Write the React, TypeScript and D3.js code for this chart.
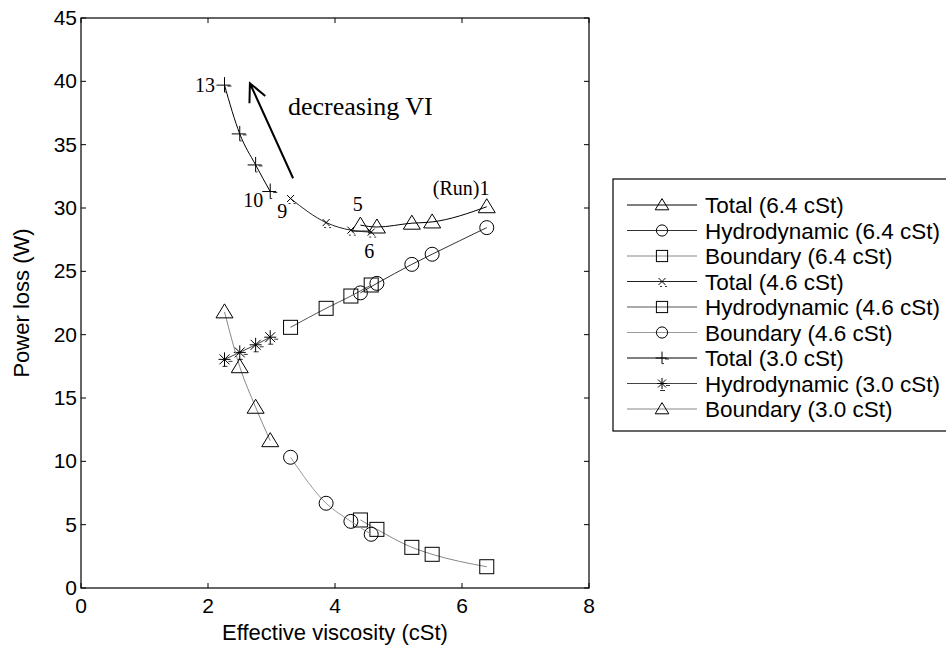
import React from "react";
import * as d3 from "d3";

const X64 = [6.39, 5.53, 5.21, 4.66, 4.4];
const X46 = [4.57, 4.25, 3.86, 3.3];
const X30 = [2.98, 2.75, 2.5, 2.26];

const total64 = [30.1, 28.9, 28.8, 28.5, 28.65];
const hydro64 = [28.45, 26.35, 25.55, 24.05, 23.3];
const bound64 = [1.68, 2.66, 3.21, 4.63, 5.37];
const total46 = [28.1, 28.25, 28.85, 30.75];
const hydro46 = [23.92, 23.05, 22.08, 20.58];
const bound46 = [4.24, 5.26, 6.69, 10.32];
const total30 = [31.3, 33.4, 35.85, 39.7];
const hydro30 = [19.8, 19.2, 18.6, 18.05];
const bound30 = [11.63, 14.27, 17.47, 21.8];

const xTicks = [0, 2, 4, 6, 8];
const yTicks = [0, 5, 10, 15, 20, 25, 30, 35, 40, 45];

type Marker = "tri" | "circ" | "sq" | "x" | "plus" | "star";
const seriesNames = [
  "Total (6.4 cSt)",
  "Hydrodynamic (6.4 cSt)",
  "Boundary (6.4 cSt)",
  "Total (4.6 cSt)",
  "Hydrodynamic (4.6 cSt)",
  "Boundary (4.6 cSt)",
  "Total (3.0 cSt)",
  "Hydrodynamic (3.0 cSt)",
  "Boundary (3.0 cSt)",
];
const seriesX = [X64, X64, X64, X46, X46, X46, X30, X30, X30];
const seriesY = [total64, hydro64, bound64, total46, hydro46, bound46, total30, hydro30, bound30];
const seriesMarker: Marker[] = ["tri", "circ", "sq", "x", "sq", "circ", "plus", "star", "tri"];
const seriesColor = ["#000", "#333", "#888", "#222", "#555", "#999", "#000", "#444", "#888"];

const annotations = [
  { t: "13", x: 2.11, y: 39.7, a: "end", s: 20 },
  { t: "10", x: 2.87, y: 30.6, a: "end", s: 20 },
  { t: "9", x: 3.17, y: 29.8, a: "middle", s: 20 },
  { t: "5", x: 4.36, y: 30.3, a: "middle", s: 20 },
  { t: "6", x: 4.54, y: 26.6, a: "middle", s: 20 },
  { t: "(Run)1", x: 5.54, y: 31.6, a: "start", s: 20 },
  { t: "decreasing VI", x: 3.26, y: 38.1, a: "start", s: 26 },
];
const arrowFrom = [3.34, 32.35];
const arrowTo = [2.66, 39.85];

const W = 946;
const H = 649;
const L = 81, R = 589, T = 18, B = 588;

function MarkerShape({ m, cx, cy, k = 1 }: { m: Marker; cx: number; cy: number; k?: number }) {
  const st = { fill: "none", stroke: "#000", strokeWidth: 1 };
  if (m === "tri")
    return (
      <polygon
        points={`${cx},${cy - 8 * k} ${cx + 8.5 * k},${cy + 6 * k} ${cx - 8.5 * k},${cy + 6 * k}`}
        {...st}
      />
    );
  if (m === "circ") return <circle cx={cx} cy={cy} r={7 * k} {...st} />;
  if (m === "sq") return <rect x={cx - 7 * k} y={cy - 7 * k} width={14 * k} height={14 * k} {...st} />;
  if (m === "x")
    return (
      <g {...st}>
        <path d={`M${cx - 3.5},${cy - 3.5}L${cx + 3.5},${cy + 3.5}M${cx - 3.5},${cy + 3.5}L${cx + 3.5},${cy - 3.5}`} />
        <path d={`M${cx - 2},${cy + 5}L${cx},${cy + 5}M${cx + 3},${cy + 5}L${cx + 5},${cy + 5}`} strokeWidth={0.8} />
      </g>
    );
  if (m === "plus")
    return (
      <g {...st}>
        <path d={`M${cx - 8 * k},${cy}L${cx + 6 * k},${cy}M${cx},${cy - 8 * k}L${cx},${cy + 7 * k}`} />
        <path d={`M${cx + 3},${cy + 1}L${cx + 7},${cy + 1}M${cx},${cy + 7 * k}L${cx + 2},${cy + 7 * k}`} strokeWidth={0.8} />
      </g>
    );
  return (
    <g {...st}>
      <path
        d={`M${cx - 6 * k},${cy}L${cx + 6 * k},${cy}M${cx},${cy - 7 * k}L${cx},${cy + 7 * k}M${cx - 5 * k},${cy - 5 * k}L${cx + 5 * k},${cy + 5 * k}M${cx - 5 * k},${cy + 5 * k}L${cx + 5 * k},${cy - 5 * k}`}
      />
      <path d={`M${cx + 4},${cy + 2}L${cx + 8},${cy + 2}M${cx - 2},${cy + 7}L${cx + 3},${cy + 7}`} strokeWidth={0.8} />
    </g>
  );
}

export default function App() {
  const x = d3.scaleLinear().domain([0, 8]).range([L, R]);
  const y = d3.scaleLinear().domain([0, 45]).range([B, T]);
  const line = d3
    .line<[number, number]>()
    .x((d) => x(d[0]))
    .y((d) => y(d[1]))
    .curve(d3.curveMonotoneX);

  const sans = "'Liberation Sans', Arial, sans-serif";
  const serif = "'Liberation Serif', 'Times New Roman', serif";

  const ax0 = x(arrowFrom[0]), ay0 = y(arrowFrom[1]);
  const ax1 = x(arrowTo[0]), ay1 = y(arrowTo[1]);
  const ang = Math.atan2(ay0 - ay1, ax0 - ax1);
  const hl = 20, ha = 0.45;
  const h1 = [ax1 + hl * Math.cos(ang + ha), ay1 + hl * Math.sin(ang + ha)];
  const h2 = [ax1 + hl * Math.cos(ang - ha), ay1 + hl * Math.sin(ang - ha)];

  const legTop = 179, legRow = 25.5, legFirst = 205;

  return (
    <svg width={W} height={H} style={{ position: "absolute", left: 0, top: 0, background: "#fff" }}>
      <rect x={0} y={0} width={W} height={H} fill="#fff" />
      {xTicks.map((t) => (
        <g key={"xt" + t}>
          <line x1={x(t)} x2={x(t)} y1={B} y2={B - 5} stroke="#000" />
          <line x1={x(t)} x2={x(t)} y1={T} y2={T + 5} stroke="#000" />
          <text x={x(t)} y={B + 25} textAnchor="middle" fontFamily={sans} fontSize={21}>
            {t}
          </text>
        </g>
      ))}
      {yTicks.map((t) => (
        <g key={"yt" + t}>
          <line x1={L} x2={L + 5} y1={y(t)} y2={y(t)} stroke="#000" />
          <line x1={R} x2={R - 5} y1={y(t)} y2={y(t)} stroke="#000" />
          <text x={L - 4} y={y(t) + 7} textAnchor="end" fontFamily={sans} fontSize={21}>
            {t}
          </text>
        </g>
      ))}
      <rect x={L} y={T} width={R - L} height={B - T} fill="none" stroke="#000" strokeWidth={1.2} />
      <text x={(L + R) / 2} y={B + 52} textAnchor="middle" fontFamily={sans} fontSize={22}>
        Effective viscosity (cSt)
      </text>
      <text
        transform={`translate(${L - 52},${(T + B) / 2}) rotate(-90)`}
        textAnchor="middle"
        fontFamily={sans}
        fontSize={22}
      >
        Power loss (W)
      </text>

      {seriesNames.map((n, i) => {
        const pts = seriesX[i]
          .map((xv, j) => [xv, seriesY[i][j]] as [number, number])
          .sort((a, b) => a[0] - b[0]);
        return (
          <g key={n}>
            <path d={line(pts) || ""} fill="none" stroke={seriesColor[i]} strokeWidth={1} />
            {pts.map((p, j) => (
              <MarkerShape key={j} m={seriesMarker[i]} cx={x(p[0])} cy={y(p[1])} />
            ))}
          </g>
        );
      })}

      {annotations.map((a) => (
        <text
          key={a.t}
          x={x(a.x)}
          y={y(a.y)}
          dy="0.35em"
          textAnchor={a.a as any}
          fontFamily={serif}
          fontSize={a.s}
        >
          {a.t}
        </text>
      ))}
      <path
        d={`M${ax0},${ay0}L${ax1},${ay1}M${h1[0]},${h1[1]}L${ax1},${ay1}L${h2[0]},${h2[1]}`}
        fill="none"
        stroke="#000"
        strokeWidth={2}
      />

      <rect x={613} y={legTop} width={400} height={252} fill="#fff" stroke="#000" strokeWidth={1.2} />
      {seriesNames.map((n, i) => {
        const cy = legFirst + i * legRow;
        return (
          <g key={"lg" + n}>
            <line x1={627} x2={697} y1={cy} y2={cy} stroke={seriesColor[i]} />
            <MarkerShape m={seriesMarker[i]} cx={662} cy={cy} k={0.8} />
            <text x={705} y={cy + 8} fontFamily={sans} fontSize={22.5}>
              {n}
            </text>
          </g>
        );
      })}
    </svg>
  );
}
